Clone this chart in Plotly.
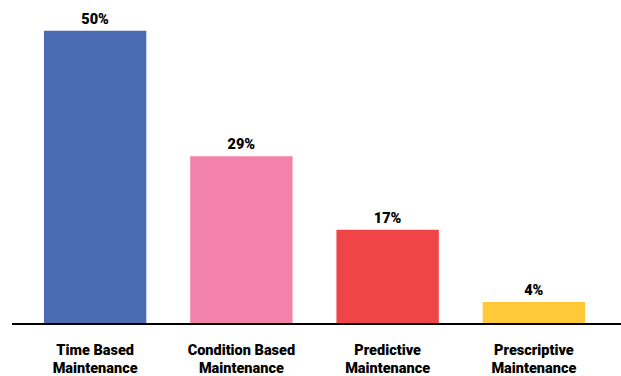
import plotly.graph_objects as go

categories = ["Time Based<br>Maintenance", "Condition Based<br>Maintenance",
              "Predictive<br>Maintenance", "Prescriptive<br>Maintenance"]
values = [50, 28.7, 16.2, 3.9]
labels = ["50%", "29%", "17%", "4%"]
colors = ["#4a6bb2", "#f282aa", "#ef4546", "#ffc93a"]

fig = go.Figure(go.Bar(
    x=categories, y=values, text=labels, textposition="outside",
    marker=dict(color=colors, line=dict(width=0)),
    textfont=dict(family="Roboto", size=14.5, color="#000000", weight=900),
    cliponaxis=False,
))

fig.update_layout(
    width=621, height=376,
    margin=dict(l=22, r=14, t=2, b=51),
    paper_bgcolor="white", plot_bgcolor="white",
    bargap=0.3, showlegend=False,
    font=dict(family="Roboto", color="#000000"),
    xaxis=dict(showgrid=False, zeroline=False, showline=False, ticks="",
               automargin=False,
               tickfont=dict(family="Roboto", size=14.5, color="#000000", weight=900),
               ticklabelstandoff=14),
    yaxis=dict(range=[0, 54.9], visible=False, showgrid=False, zeroline=False,
               automargin=False),
    shapes=[dict(type="line", xref="paper", yref="y", x0=-10/585, x1=1+14/585,
                 y0=0, y1=0, line=dict(color="black", width=4))],
)

fig.write_html("out.html")
